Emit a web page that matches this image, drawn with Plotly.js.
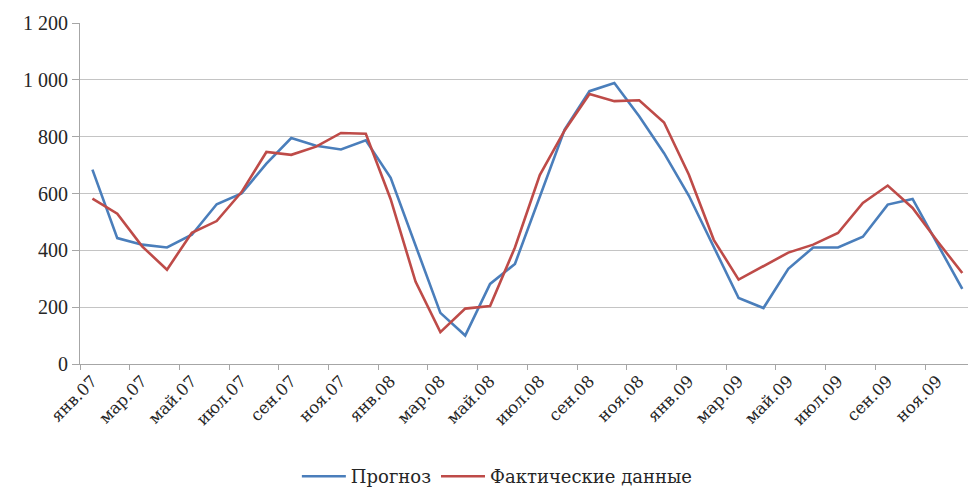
<!DOCTYPE html>
<html>
<head>
<meta charset="utf-8">
<script src="https://cdn.plot.ly/plotly-3.0.1.min.js"></script>
<style>
  html, body { margin: 0; padding: 0; background: #fff; }
  #chart { width: 968px; height: 488px; }
</style>
</head>
<body>
<div id="chart"></div>
<script>
// Monthly series, January 2007 – December 2009
const monthNames = ['янв', 'фев', 'мар', 'апр', 'май', 'июн', 'июл', 'авг', 'сен', 'окт', 'ноя', 'дек'];
const years = ['07', '08', '09'];

const forecast = [684, 443, 420, 410, 455, 562, 600, 705, 795, 768, 755, 787,
                  655, 415, 180, 100, 282, 352, 585, 825, 960, 989, 872, 742,
                  592, 414, 232, 197, 335, 410, 410, 448, 561, 581, 420, 264];

const actual   = [582, 529, 414, 332, 462, 503, 605, 746, 736, 765, 813, 810,
                  580, 290, 112, 195, 204, 410, 665, 822, 950, 925, 928, 850,
                  666, 437, 297, 344, 392, 420, 461, 567, 628, 549, 432, 320];

const seriesNames = ['Прогноз', 'Фактические данные'];
const yTicks = [0, 200, 400, 600, 800, 1000, 1200];

const labels = [];
years.forEach(y => monthNames.forEach(m => labels.push(m + '.' + y)));
const idx = labels.map((_, i) => i);

// every second month is labelled
const tickIdx = idx.filter(i => i % 2 === 0);
const tickText = tickIdx.map(i => labels[i]);

const serifNum = '"Liberation Serif", serif';
const serifCyr = 'DejaVu Serif';

const traces = [
  {
    x: idx, y: forecast, name: seriesNames[0], type: 'scatter', mode: 'lines',
    text: labels, hovertemplate: '%{text}: %{y}<extra></extra>',
    line: { color: '#4a7ebb', width: 2.6 }
  },
  {
    x: idx, y: actual, name: seriesNames[1], type: 'scatter', mode: 'lines',
    text: labels, hovertemplate: '%{text}: %{y}<extra></extra>',
    line: { color: '#be4b48', width: 2.6 }
  }
];

const layout = {
  width: 968, height: 488,
  margin: { l: 80, r: 0, t: 23, b: 124, autoexpand: false },
  paper_bgcolor: '#fff', plot_bgcolor: '#fff',
  separators: ', ',
  font: { family: serifNum, size: 18, color: '#262626' },
  showlegend: true,
  legend: {
    orientation: 'h', x: 0.47, xanchor: 'center', y: -0.33, yanchor: 'middle',
    font: { family: serifCyr, size: 18, color: '#262626' },
    itemwidth: 44
  },
  xaxis: {
    range: [-0.5, 35.23],
    automargin: false,
    tickmode: 'array', tickvals: tickIdx, ticktext: tickText,
    tickangle: -45, ticks: '',
    tickfont: { family: serifCyr, size: 16.5, color: '#262626' },
    showgrid: false, zeroline: false,
    showline: true, linecolor: '#a6a6a6', linewidth: 1,
    minor: { tickmode: 'linear', tick0: -0.5, dtick: 2, ticks: 'outside', ticklen: 5, tickcolor: '#a6a6a6', tickwidth: 1, showgrid: false }
  },
  yaxis: {
    range: [0, 1200],
    automargin: false,
    tickmode: 'array', tickvals: yTicks,
    tickformat: ',d',
    ticks: 'outside', ticklen: 7, tickcolor: '#a6a6a6', tickwidth: 1,
    tickfont: { family: serifNum, size: 20, color: '#262626' },
    showgrid: true, gridcolor: '#c4c4c4', gridwidth: 1.2,
    zeroline: false,
    showline: true, linecolor: '#a6a6a6', linewidth: 1
  }
};

Plotly.newPlot('chart', traces, layout, { displayModeBar: false, staticPlot: true });
</script>
</body>
</html>
